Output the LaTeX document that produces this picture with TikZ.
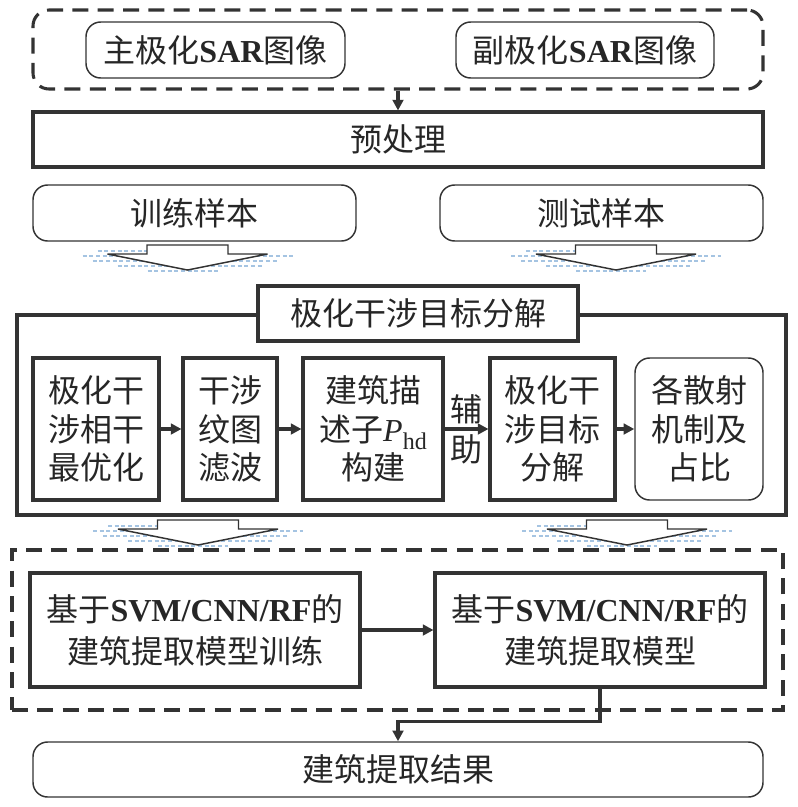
\documentclass[tikz,border=0pt]{standalone}
\usepackage{fontspec}
\setmainfont{Liberation Serif}
\newfontfamily\cjk{Noto Sans CJK SC}
\newfontfamily\latin{Liberation Serif}
\usetikzlibrary{arrows.meta}
\definecolor{lc}{RGB}{51,51,51}
\definecolor{shd}{RGB}{165,196,226}
\newcommand\eng[1]{{\latin\bfseries #1}}
\tikzset{
  base/.style={draw=lc,align=center,inner sep=0pt,text=black!85,
    font=\cjk\fontsize{24}{29}\selectfont},
  box/.style={base,line width=2.3pt},
  rbox/.style={base,line width=1.1pt,rounded corners=11pt},
  dbox/.style={draw=lc,line width=2.3pt,dash pattern=on 12pt off 7pt},
  arr/.style={draw=lc,line width=2.3pt,-{Triangle[length=8pt,width=8pt]}},
  barrow/.style={draw=lc,line width=1.1pt,fill=white,line join=miter},
  shad/.style={shd,line width=0.8pt,dash pattern=on 3pt off 2pt},
}
% hollow down arrow with its faint shadow, #1 = centre x, #2 = top y
\newcommand\blkarrow[2]{
  \begin{scope}[shift={(#1,#2)}]
    \foreach \dy/\a/\b in {6/-90/-40, 11/-105/105, 16/-95/90, 21/-70/75, 26/-40/30}
      \draw[shad] (\a,\dy) -- (\b,\dy);
    \draw[barrow] (-40.5,0) -- (40.5,0) -- (40.5,9) -- (80,9) -- (0,25)
      -- (-80,9) -- (-40.5,9) -- cycle;
  \end{scope}
}
\begin{document}
\begin{tikzpicture}[x=0.75pt,y=-0.75pt]
\useasboundingbox (0,0) rectangle (798,807);

% input images
\node[dbox,rounded corners=12pt,minimum width=547.5pt,minimum height=59.25pt] (inp) at (398,49.5) {};
\node[rbox,minimum width=194.25pt,minimum height=42pt] (main) at (215.5,50) {主极化\eng{SAR}图像};
\node[rbox,minimum width=193.5pt,minimum height=42pt] (sub) at (585,50) {副极化\eng{SAR}图像};

\node[box,minimum width=547.5pt,minimum height=41.25pt] (pre) at (398,139.5) {预处理};
\draw[arr] (inp) -- (pre);

\node[rbox,minimum width=242.25pt,minimum height=42pt] (train) at (194.5,213) {训练样本};
\node[rbox,minimum width=242.25pt,minimum height=42pt] (test) at (601.5,213) {测试样本};

\blkarrow{187.5}{245}
\blkarrow{616}{245}

% decomposition block
\node[box,minimum width=576.75pt,minimum height=150pt] (dec) at (401.5,415) {};
\node[box,fill=white,minimum width=240pt,minimum height=41.25pt] (title) at (418,313.5) {极化干涉目标分解};

\node[box,minimum width=94.5pt,minimum height=106.5pt] (opt) at (96,429) {极化干\\涉相干\\最优化};
\node[box,minimum width=70.5pt,minimum height=106.5pt] (filt) at (230,429) {干涉\\纹图\\滤波};
\node[box,minimum width=105pt,minimum height=106.5pt] (desc) at (373,429)
  {建筑描\\述子{\latin\itshape P}\raisebox{-0.45ex}{\latin\fontsize{18}{18}\selectfont hd}\\构建};
\node[box,minimum width=93.75pt,minimum height=106.5pt] (tdec) at (552.5,429) {极化干\\涉目标\\分解};
\node[rbox,minimum width=96pt,minimum height=106.5pt] (ratio) at (699,429) {各散射\\机制及\\占比};

\draw[arr] (opt) -- (filt);
\draw[arr] (filt) -- (desc);
\draw[arr] (desc) -- node[text=black!85,align=center,font=\cjk\fontsize{24}{30}\selectfont] {辅\\助} (tdec);
\draw[arr] (tdec) -- (ratio);

\blkarrow{198}{520}
\blkarrow{627}{520}

% classifier block
\node[dbox,minimum width=578.25pt,minimum height=120pt] (cls) at (397.5,630) {};
\node[box,minimum width=247.5pt,minimum height=85.5pt,font=\cjk\fontsize{24}{31.5}\selectfont] (mtrain) at (195,630)
  {基于\eng{SVM/CNN/RF}的\\建筑提取模型训练};
\node[box,minimum width=247.5pt,minimum height=85.5pt,font=\cjk\fontsize{24}{31.5}\selectfont] (model) at (600,630)
  {基于\eng{SVM/CNN/RF}的\\建筑提取模型};
\draw[arr] (mtrain) -- (model);

\node[rbox,minimum width=547.5pt,minimum height=41.25pt] (res) at (398,769.5) {建筑提取结果};
\draw[arr] (model.south) -- ++(0,33) -| (res.north);
\end{tikzpicture}
\end{document}
